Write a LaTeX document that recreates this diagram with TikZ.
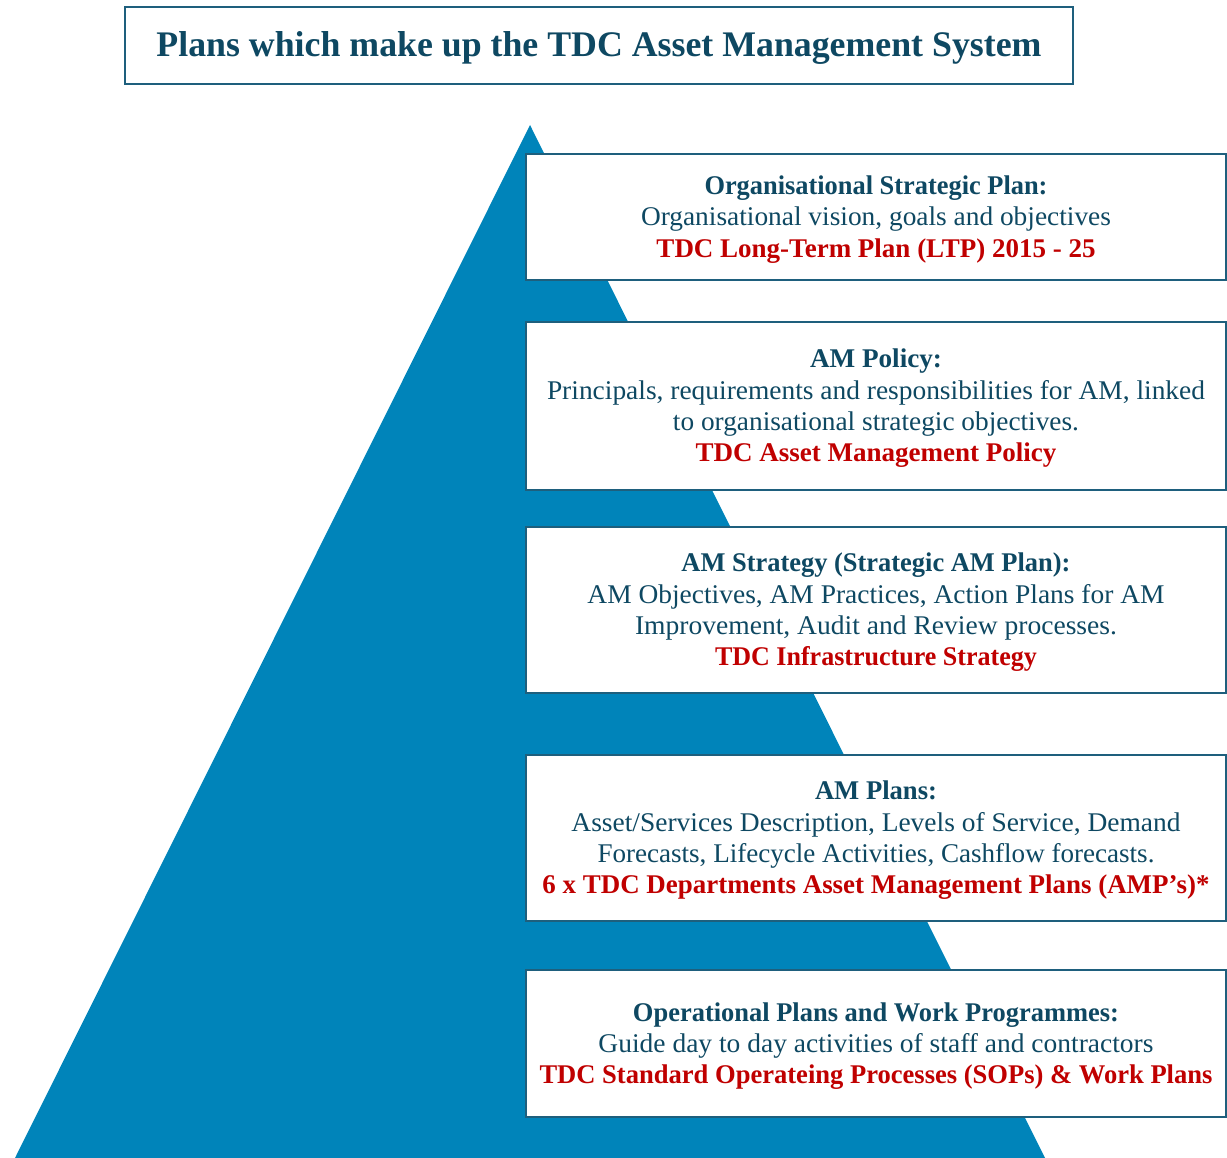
\documentclass[tikz,border=0pt]{standalone}
\usepackage{fontspec}
\setmainfont{Liberation Serif}
\usepackage{graphicx}

\definecolor{pyramid}{RGB}{0,132,186}
\definecolor{inkteal}{RGB}{14,72,98}
\definecolor{frameteal}{RGB}{30,95,125}
\definecolor{inkred}{RGB}{192,0,0}

% one line of text squeezed or stretched to a given width (in pt), height kept
\newcommand{\fitline}[2]{\resizebox{#1pt}{\height}{#2}}
\newcommand{\headln}[2]{\fitline{#1}{\textbf{#2}}}
\newcommand{\bodyln}[2]{\fitline{#1}{#2}}
\newcommand{\docln}[2]{\fitline{#1}{\color{inkred}\textbf{#2}}}

\tikzset{
  planbox/.style={draw=frameteal, line width=2pt, fill=white, inner sep=0pt,
    minimum width=700pt},
  plantext/.style={inner sep=0pt, align=center, text=inkteal,
    font=\fontsize{27}{31.3}\selectfont},
  titlebox/.style={draw=frameteal, line width=2pt, fill=white, inner sep=0pt,
    minimum width=948pt, minimum height=77pt},
  titletext/.style={inner sep=0pt, text=inkteal,
    font=\fontsize{36}{40}\selectfont\bfseries}
}

\begin{document}
\begin{tikzpicture}[x=1pt, y=-1pt]
\useasboundingbox (0,0) rectangle (1227,1158);

% the pyramid behind the plan boxes
\fill[pyramid] (530,125) -- (15,1158) -- (1045,1158) -- cycle;

% heading
\node[titlebox] (title) at (599,45.5) {};
\node[titletext] (titlelabel) at ([yshift=-2pt]title.center)
  {\fitline{885}{Plans which make up the TDC Asset Management System}};

% the five levels of plans
\node[planbox, minimum height=126pt] (osp) at (876,217) {};
\node[plantext] (osptext) at ([yshift=-2.5pt]osp.center) {%
  \headln{343}{Organisational Strategic Plan:}\\
  \bodyln{470}{Organisational vision, goals and objectives}\\
  \docln{439}{TDC Long-Term Plan (LTP) 2015 - 25}};

\node[planbox, minimum height=168pt] (policy) at (876,406) {};
\node[plantext] (policytext) at ([yshift=-2.5pt]policy.center) {%
  \headln{132}{AM Policy:}\\
  \bodyln{658}{Principals, requirements and responsibilities for AM, linked}\\
  \bodyln{406}{to organisational strategic objectives.}\\
  \docln{361}{TDC Asset Management Policy}};

\node[planbox, minimum height=166pt] (strategy) at (876,610) {};
\node[plantext] (strategytext) at ([yshift=-2.5pt]strategy.center) {%
  \headln{389}{AM Strategy (Strategic AM Plan):}\\
  \bodyln{577}{AM Objectives, AM Practices, Action Plans for AM}\\
  \bodyln{482}{Improvement, Audit and Review processes.}\\
  \docln{322}{TDC Infrastructure Strategy}};

\node[planbox, minimum height=166pt] (amplans) at (876,838) {};
\node[plantext] (amplanstext) at ([yshift=-2.5pt]amplans.center) {%
  \headln{122}{AM Plans:}\\
  \bodyln{609}{Asset/Services Description, Levels of Service, Demand}\\
  \bodyln{557}{Forecasts, Lifecycle Activities, Cashflow forecasts.}\\
  \docln{667}{6 x TDC Departments Asset Management Plans (AMP’s)*}};

\node[planbox, minimum height=147pt] (ops) at (876,1043.5) {};
\node[plantext] (opstext) at ([yshift=-2.5pt]ops.center) {%
  \headln{486}{Operational Plans and Work Programmes:}\\
  \bodyln{555}{Guide day to day activities of staff and contractors}\\
  \docln{673}{TDC Standard Operateing Processes (SOPs) \& Work Plans}};
\end{tikzpicture}
\end{document}
